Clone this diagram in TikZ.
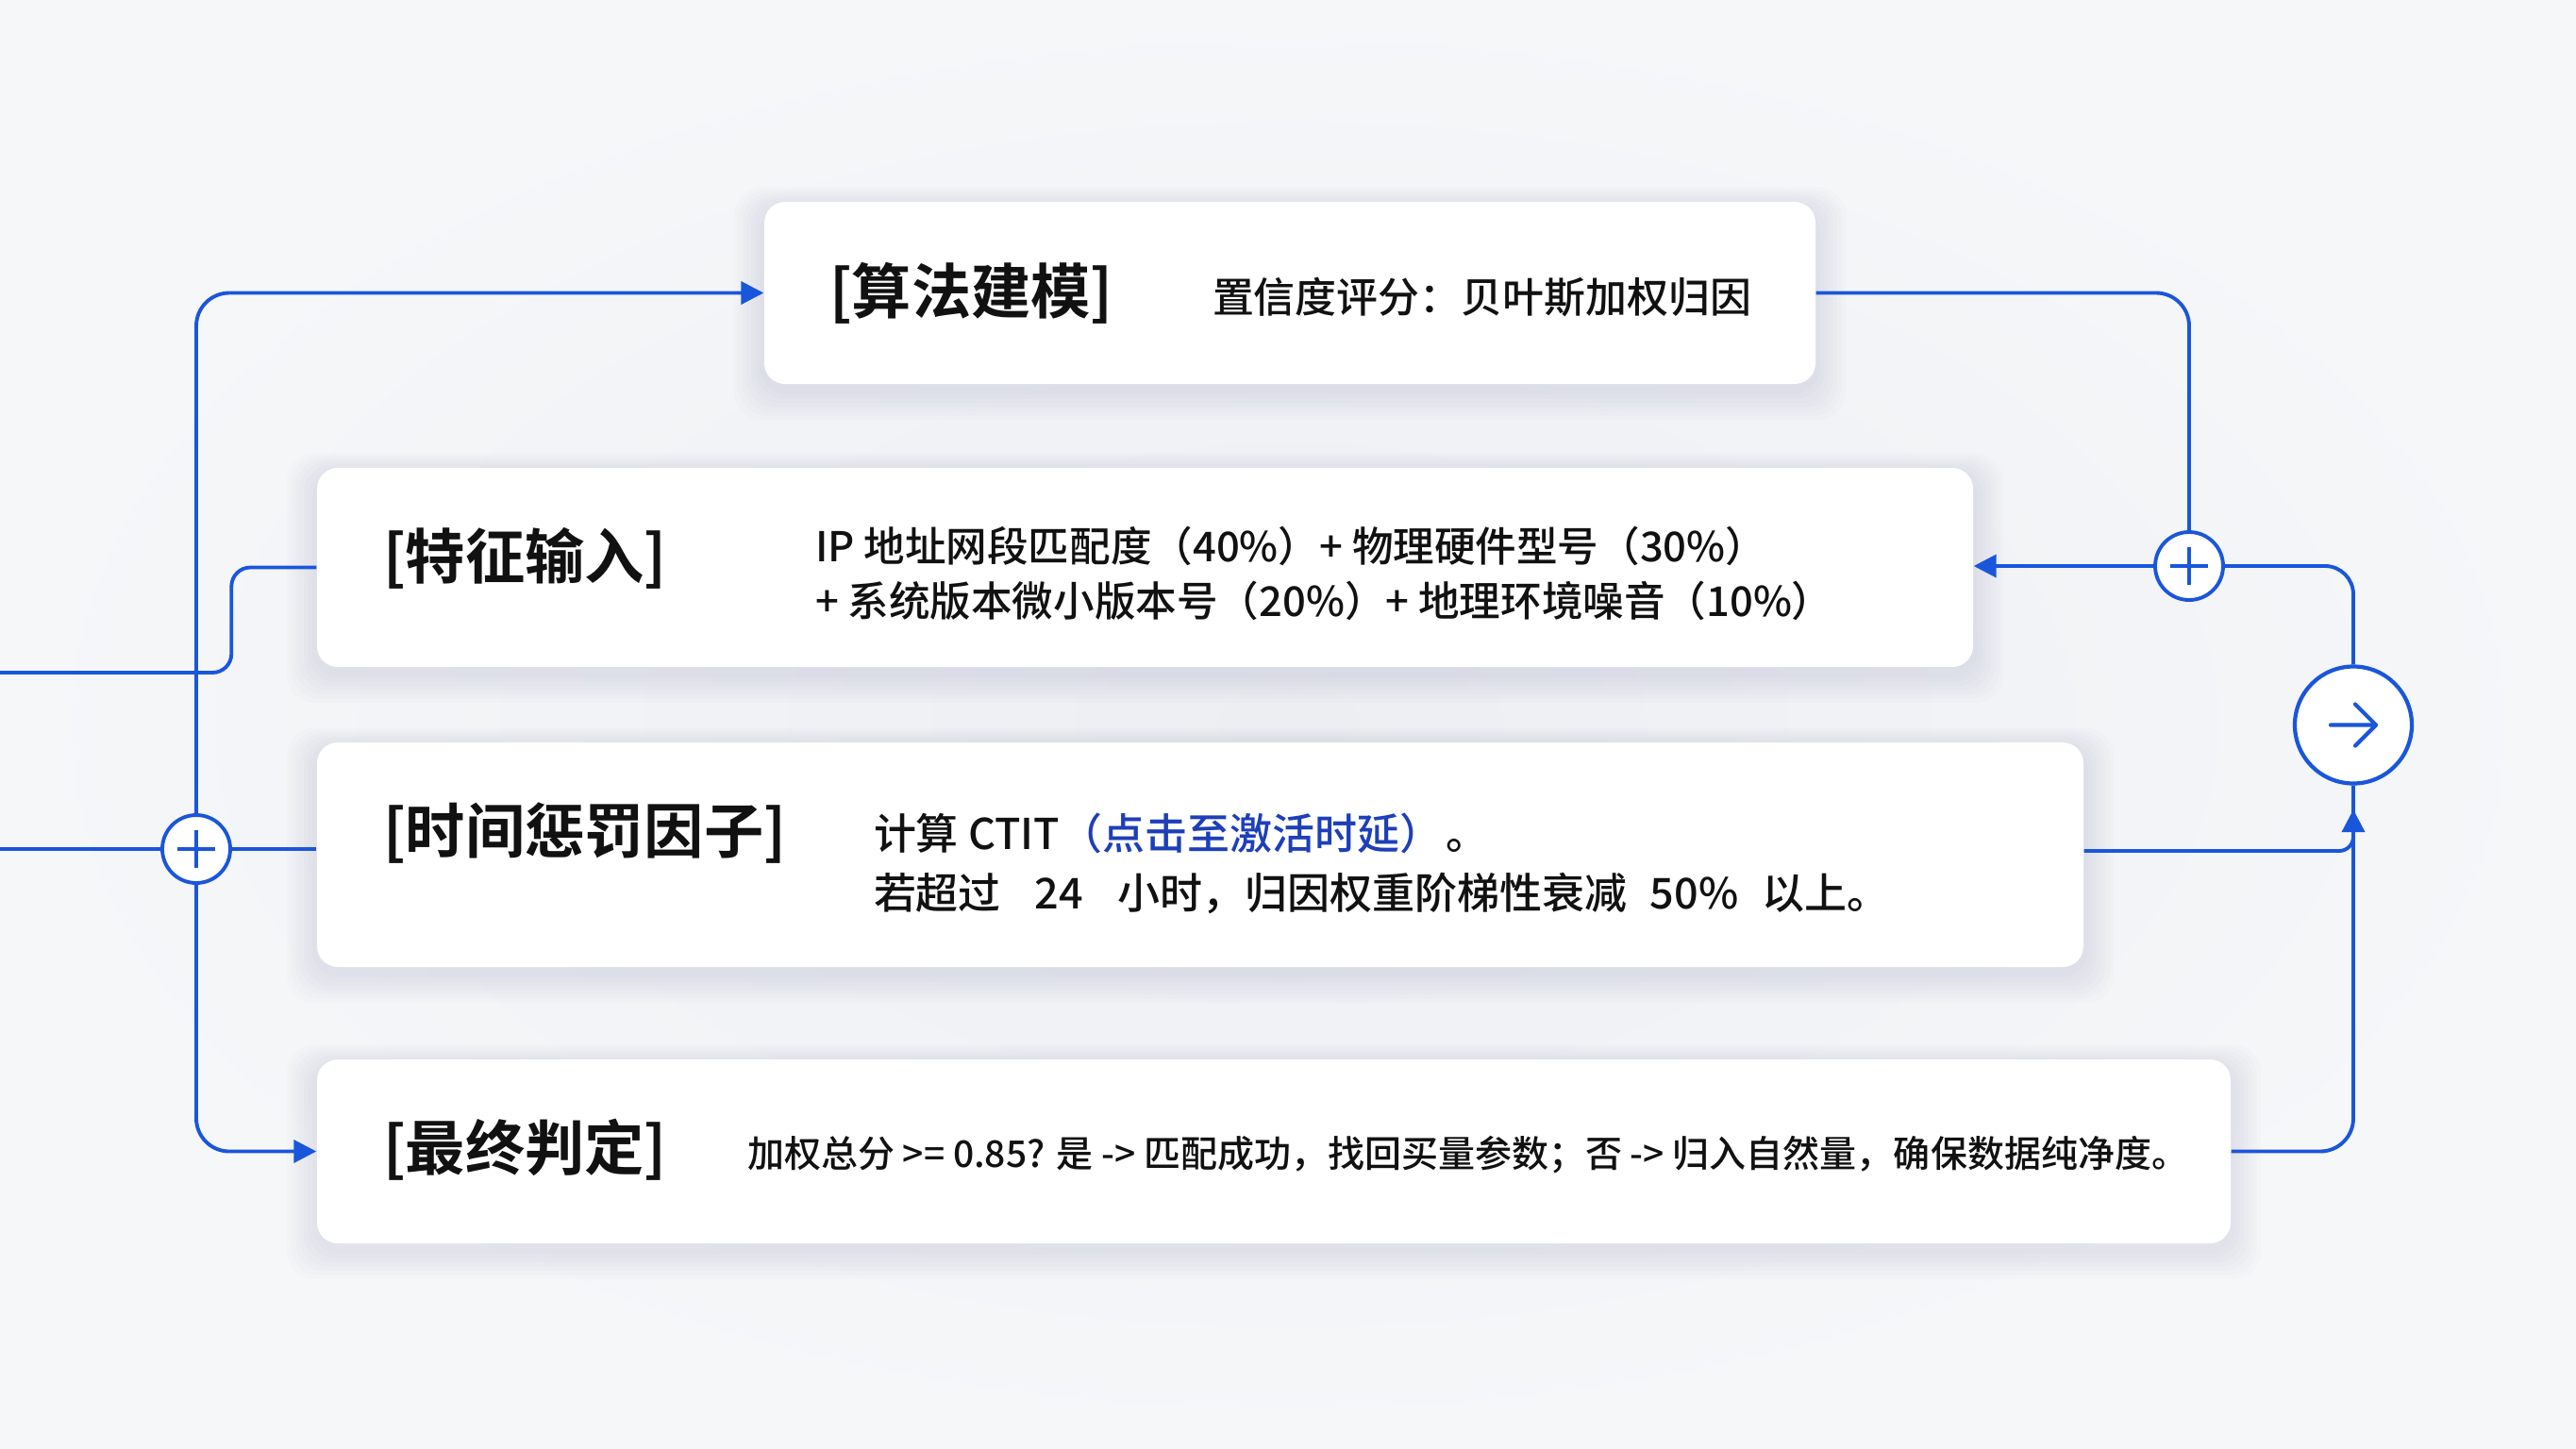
\documentclass[tikz,border=0pt]{standalone}
\usepackage{fontspec}
\setmainfont{Noto Sans CJK SC}[UprightFont={* Medium}, BoldFont={* Bold}]
\usetikzlibrary{positioning,calc,arrows.meta}
\definecolor{flow}{HTML}{1A56DB}
\definecolor{note}{HTML}{1E3FB8}
\definecolor{bgmid}{HTML}{ECEEF2}
\definecolor{bgedge}{HTML}{F6F7F9}
\definecolor{ink}{HTML}{111111}
\pgfdeclarelayer{back}
\pgfsetlayers{back,main}

\begin{document}
\begin{tikzpicture}[
  card/.style={rectangle, rounded corners=0.22cm, fill=white, draw=none},
  head/.style={anchor=west, inner sep=0pt, text=ink, font=\fontsize{18}{21}\selectfont\bfseries},
  body/.style={anchor=west, inner sep=0pt, text=ink, align=left, font=\fontsize{12.5}{17}\selectfont},
  wire/.style={flow, line width=1.1pt, rounded corners=0.35cm},
  tip/.style={-{Triangle[length=0.24cm,width=0.24cm]}},
  junc/.style={circle, draw=flow, line width=1.1pt, fill=white, minimum size=0.72cm, inner sep=0pt},
  plus/.style={path picture={
    \draw[flow, line width=1.1pt] ($(path picture bounding box.center)+(-0.2,0)$) -- ++(0.4,0)
      ($(path picture bounding box.center)+(0,-0.2)$) -- ++(0,0.4);}},
  goc/.style={circle, draw=flow, line width=1.2pt, fill=white, minimum size=1.24cm, inner sep=0pt,
    path picture={
    \draw[flow, line width=1.2pt, line cap=round, line join=round]
      ($(path picture bounding box.center)+(-0.24,0)$) -- ++(0.48,0)
      ++(-0.22,0.22) -- ++(0.22,-0.22) -- ++(-0.22,-0.22);}},
]
\useasboundingbox (0,0) rectangle (27.30,-15.35);

% cards
\node[card, minimum width=11.14cm, minimum height=1.93cm] (algo) at (13.67,-3.105) {};
\node[card, minimum width=17.55cm, minimum height=2.11cm] (feat) at (12.135,-6.015) {};
\node[card, minimum width=18.72cm, minimum height=2.38cm] (time) at (12.72,-9.06) {};
\node[card, minimum width=20.28cm, minimum height=1.95cm] (judge) at (13.50,-12.205) {};

% page and soft shadows
\begin{pgfonlayer}{back}
  \shade[inner color=bgmid, outer color=bgedge] (0,0) rectangle (27.30,-15.35);
  \foreach \c in {algo,feat,time,judge}
    \foreach \k in {1,...,7}
      \fill[black!70!blue, opacity=0.012, rounded corners=0.3cm]
        ([shift={(-\k*0.045,-\k*0.045-0.06)}]\c.south west) rectangle
        ([shift={(\k*0.045,\k*0.03-0.06)}]\c.north east);
\end{pgfonlayer}

\node[head] (algoT) at ([xshift=0.69cm]algo.west) {[算法建模]};
\node[body] (algoB) at ([xshift=4.75cm,yshift=-0.045cm]algo.west) {置信度评分：贝叶斯加权归因};

\node[head] (featT) at ([xshift=0.70cm,yshift=0.095cm]feat.west) {[特征输入]};
\node[body, font=\fontsize{12.4}{16.5}\selectfont] (featB) at ([xshift=5.28cm,yshift=-0.065cm]feat.west)
  {IP 地址网段匹配度（40\%）+ 物理硬件型号（30\%）\\+ 系统版本微小版本号（20\%）+ 地理环境噪音（10\%）};

\node[head] (timeT) at ([xshift=0.70cm,yshift=0.23cm]time.west) {[时间惩罚因子]};
\node[body, font=\fontsize{12.8}{18}\selectfont] (timeB) at ([xshift=5.90cm,yshift=-0.095cm]time.west)
  {计算 CTIT\textcolor{note}{（点击至激活时延）}\hspace{0.1em}。\\
   若超过\hspace{0.8em}24\hspace{0.8em}小时，归因权重阶梯性衰减\hspace{0.55em}50\%\hspace{0.55em}以上。};

\node[head] (judgeT) at ([xshift=0.70cm,yshift=0.015cm]judge.west) {[最终判定]};
\node[body, font=\fontsize{11.1}{14}\selectfont] (judgeB) at ([xshift=4.56cm,yshift=-0.035cm]judge.west)
  {加权总分 >= 0.85? 是 -> 匹配成功，找回买量参数；否 -> 归入自然量，确保数据纯净度。};

% junctions
\node[junc, plus] (jl) at (2.08,-9.00) {};
\node[junc, plus] (jr) at (23.20,-6.00) {};
\node[goc] (out) at (24.94,-7.685) {};
\coordinate (inL) at (0,-9.00);
\coordinate (inF) at (0,-7.13);
\coordinate (outIn) at ($(out.south)+(0,-0.255)$);

% left side
\draw[wire, tip] (jl.north) |- (algo.west);
\draw[wire, tip] (jl.south) |- (judge.west);
\draw[wire] (inL) -- (jl.west);
\draw[wire] (jl.east) -- (jl.east -| time.west);
\draw[wire, rounded corners=0.2cm] (feat.west) -| ($(feat.west)+(-0.9,-1.115)$) -- (inF);

% right side
\draw[wire] (algo.east) -| (jr.north);
\draw[wire, tip] (jr.west) -- (jr.west -| feat.east);
\draw[wire, rounded corners=0.3cm] (jr.east) -| (out.north);
\draw[wire] (judge.east) -| (out.south);
\draw[wire, rounded corners=0.15cm, tip] ([yshift=0.04cm]time.east) -| (outIn);
\end{tikzpicture}
\end{document}
